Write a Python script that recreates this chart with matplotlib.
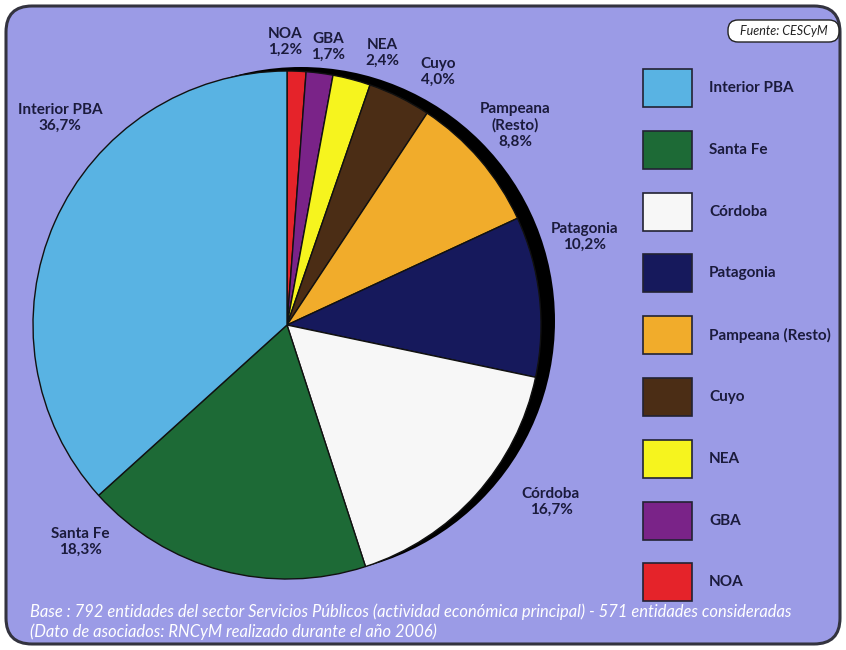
import matplotlib.pyplot as plt
from matplotlib.patches import FancyBboxPatch, Rectangle, Circle

# datos (sentido horario desde arriba)
regiones = ["NOA", "GBA", "NEA", "Cuyo", "Pampeana (Resto)", "Patagonia",
            "Córdoba", "Santa Fe", "Interior PBA"]
porcentajes = [1.2, 1.7, 2.4, 4.0, 8.8, 10.2, 16.7, 18.3, 36.7]
colores = ["#e5232a", "#7a2388", "#f6f41e", "#4b2d15", "#f1ac2b", "#16195c",
           "#f7f7f7", "#1d6a36", "#59b3e3"]
etiquetas = ["NOA\n1,2%", "GBA\n1,7%", "NEA\n2,4%", "Cuyo\n4,0%",
             "Pampeana\n(Resto)\n8,8%", "Patagonia\n10,2%", "Córdoba\n16,7%",
             "Santa Fe\n18,3%", "Interior PBA\n36,7%"]
pos_etiquetas = [(285, 42), (328, 47), (382, 53), (438, 72), (515, 125),
                 (585, 237), (551, 502), (80, 542), (60, 118)]
orden_leyenda = ["Interior PBA", "Santa Fe", "Córdoba", "Patagonia",
                 "Pampeana (Resto)", "Cuyo", "NEA", "GBA", "NOA"]

W, H = 846, 650
fondo = "#9b9be6"
texto = "#1b1b3c"
plt.rcParams['font.family'] = ['Lato', 'DejaVu Sans']

fig = plt.figure(figsize=(W / 100, H / 100), dpi=100)
ax = fig.add_axes([0, 0, 1, 1])

def Y(py):
    return H - py

# marco redondeado
ax.add_patch(FancyBboxPatch((6, 6), W - 12, H - 12,
                            boxstyle="round,pad=0,rounding_size=26",
                            fc=fondo, ec="#33333f", lw=2.2, zorder=0))

# sombra y torta
cx, cy, r = 287, Y(325), 254
ax.add_patch(Circle((cx + 14, cy + 4), r, fc="black", ec="none", zorder=1))
ax.pie(porcentajes, colors=colores, startangle=90, counterclock=False,
       center=(cx, cy), radius=r, frame=True,
       wedgeprops=dict(edgecolor="#111111", linewidth=1, zorder=2))
ax.set_xlim(0, W)
ax.set_ylim(0, H)
ax.set_aspect('equal')
ax.axis('off')

for lab, (x, y) in zip(etiquetas, pos_etiquetas):
    ax.text(x, Y(y), lab, ha='center', va='center', fontsize=11,
            fontweight='bold', color=texto, linespacing=1.2, zorder=5)

# leyenda
color_de = dict(zip(regiones, colores))
for i, nombre in enumerate(orden_leyenda):
    yc = 88 + i * 61.8
    ax.add_patch(Rectangle((643, Y(yc + 19)), 49, 38, fc=color_de[nombre],
                           ec="#222233", lw=1.2, zorder=3))
    ax.text(709, Y(yc), nombre, ha='left', va='center', fontsize=11,
            fontweight='bold', color=texto, zorder=5)

# fuente
ax.add_patch(FancyBboxPatch((728, Y(42)), 111, 22,
                            boxstyle="round,pad=0,rounding_size=10",
                            fc="white", ec="#222222", lw=1, zorder=3))
ax.text(783.5, Y(31), "Fuente: CESCyM", ha='center', va='center',
        fontsize=9, style='italic', color="#222222", zorder=5)

ax.text(30, Y(612), "Base : 792 entidades del sector Servicios Públicos "
        "(actividad económica principal) - 571 entidades consideradas",
        ha='left', va='center', fontsize=11.9, style='italic', color="white")
ax.text(30, Y(632), "(Dato de asociados: RNCyM realizado durante el año 2006)",
        ha='left', va='center', fontsize=11.9, style='italic', color="white")

fig.savefig("out.png", dpi=100, facecolor="white")
